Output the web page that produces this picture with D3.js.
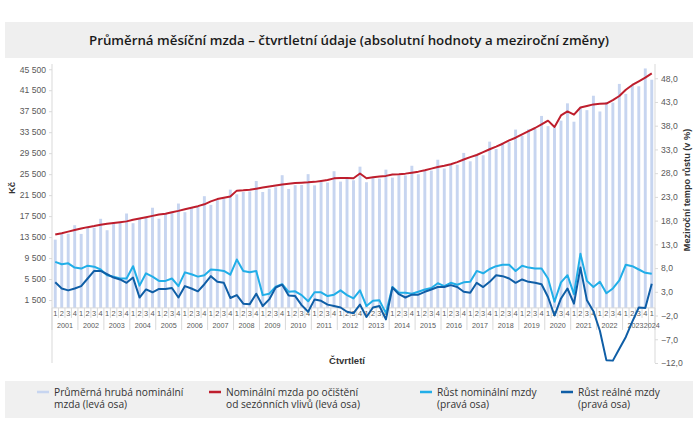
<!DOCTYPE html>
<html>
<head>
<meta charset="utf-8">
<script src="https://cdn.jsdelivr.net/npm/d3@7/dist/d3.min.js"></script>
<style>
  html, body { margin: 0; padding: 0; background: #fff; }
  svg { display: block; }
</style>
</head>
<body>
<svg id="chart" width="700" height="429"></svg>
<script>
// ---------- DATA ----------
const years = ["2001","2002","2003","2004","2005","2006","2007","2008","2009","2010","2011","2012",
               "2013","2014","2015","2016","2017","2018","2019","2020","2021","2022","2023","2024"];
const quarterNames = ["1","2","3","4"];

// Průměrná hrubá nominální mzda (Kč) – levá osa
const grossWage = [
  13020, 14250, 14150, 15770,
  14110, 15400, 15300, 16990,
  14810, 16300, 16200, 18000,
  16150, 17000, 17300, 19100,
  17010, 17900, 18300, 19900,
  18250, 19100, 19430, 21300,
  19650, 20550, 20860, 22550,
  21650, 22100, 22200, 24200,
  22100, 22700, 23000, 25300,
  22680, 23400, 23430, 25500,
  23360, 24120, 23910, 26060,
  24080, 24600, 24340, 26930,
  23960, 24770, 24650, 26360,
  24840, 25280, 25260, 27100,
  25480, 26150, 26180, 28250,
  26570, 27330, 27300, 29550,
  27950, 29200, 29100, 31700,
  30300, 31500, 31600, 34000,
  32800, 34050, 34100, 36600,
  34650, 34350, 35700, 39000,
  35500, 38200, 37700, 40450,
  37450, 39250, 39150, 42700,
  40800, 42500, 42250, 45650,
  43500
];

// Nominální mzda po očištění od sezónních vlivů (Kč) – levá osa
const seasonallyAdjusted = [
  13980, 14250, 14550, 14850,
  15150, 15400, 15600, 15850,
  16050, 16200, 16350, 16500,
  16800, 17050, 17300, 17550,
  17800, 17950, 18250, 18500,
  18800, 19100, 19400, 19750,
  20300, 20750, 21000, 21250,
  22360, 22420, 22540, 22730,
  22940, 23130, 23330, 23540,
  23680, 23800, 23880, 23940,
  24030, 24190, 24370, 24700,
  24780, 24780, 24730, 25630,
  24730, 24900, 25050, 25170,
  25450, 25500, 25600, 25780,
  25980, 26250, 26550, 26850,
  27100, 27400, 27800, 28300,
  28750, 29150, 29700, 30250,
  30750, 31300, 31950, 32450,
  33100, 33700, 34300, 35000,
  35700, 34500, 36700, 37450,
  36850, 38200, 38500, 38800,
  38900, 38950, 39600, 40400,
  41600, 42500, 43200, 43900,
  44700
];

// Růst nominální mzdy (%) – pravá osa
const nominalGrowth = [
  9.3, 8.8, 9.0, 8.1,
  7.9, 8.5, 8.3, 7.7,
  6.5, 6.2, 5.8, 5.8,
  8.4, 4.3, 6.9, 6.2,
  5.3, 5.3, 5.8, 4.2,
  7.1, 6.7, 6.2, 6.5,
  7.7, 7.6, 7.4, 6.6,
  9.8, 7.4, 7.1, 7.4,
  2.3, 2.6, 4.1, 4.6,
  3.0, 3.1, 2.3, 1.0,
  2.9, 2.9, 2.1, 2.4,
  3.3, 2.3, 1.6, 3.3,
  0.0, 1.1, 1.2, -1.5,
  4.0, 2.8, 2.8, 2.6,
  3.0, 3.5, 3.8, 4.8,
  4.2, 4.9, 4.5, 5.0,
  5.1, 7.4, 6.9, 7.8,
  8.4, 8.7, 8.7, 7.4,
  8.5, 8.1, 7.9, 7.9,
  5.8, 0.9, 5.0, 6.5,
  2.5, 11.0, 5.3, 4.0,
  5.1, 2.7, 3.7, 5.4,
  8.7, 8.4, 7.7, 7.0,
  6.8
];

// Růst reálné mzdy (%) – pravá osa
const realGrowth = [
  5.0, 3.7, 3.3, 3.7,
  4.2, 5.8, 7.4, 7.4,
  6.7, 6.0, 5.6, 4.9,
  6.0, 1.8, 3.5, 2.9,
  3.6, 3.6, 3.8, 1.8,
  4.2, 3.7, 3.1, 4.6,
  6.3, 5.1, 4.9, 1.7,
  2.3, 0.5, 0.4, 2.6,
  0.0, 1.4, 3.9, 4.5,
  2.2, 2.1, 0.2, -1.2,
  1.4, 1.1, 0.3, 0.0,
  -0.3, -1.2, -1.5, 0.3,
  -2.3, -0.3, 0.0, -2.8,
  3.9, 2.5, 1.8, 2.4,
  2.4, 3.0, 3.5, 4.0,
  4.0, 4.4, 4.0, 3.0,
  2.8, 4.9, 4.0, 5.1,
  6.5, 6.3, 5.8, 4.9,
  5.6, 5.1, 4.9, 4.6,
  1.9, -2.0, 1.6, 3.7,
  0.5, 8.1, 1.2, -1.1,
  -5.2, -11.4, -11.5, -9.0,
  -6.5, -3.3, -0.3, -0.4,
  4.7
];

const leftTicks = [1500, 5500, 9500, 13500, 17500, 21500, 25500, 29500, 33500, 37500, 41500, 45500];
const rightTicks = [-12, -7, -2, 3, 8, 13, 18, 23, 28, 33, 38, 43, 48];

const titleText = "Průměrná měsíční mzda – čtvrtletní údaje (absolutní hodnoty a meziroční změny)";
const legendItems = [
  { key: "bar",  lines: ["Průměrná hrubá nominální", "mzda (levá osa)"] },
  { key: "sa",   lines: ["Nominální mzda po očištění", "od sezónních vlivů (levá osa)"] },
  { key: "nom",  lines: ["Růst nominální mzdy", "(pravá osa)"] },
  { key: "real", lines: ["Růst reálné mzdy", "(pravá osa)"] }
];

// categories (year + quarter)
const categories = [];
years.forEach(y => {
  quarterNames.forEach(q => {
    if (y === "2024" && q !== "1") return;
    categories.push({ year: y, q: q });
  });
});

// ---------- STYLE ----------
const colors = { bar: "#c7d5f0", sa: "#be1e2d", nom: "#21aee8", real: "#0f5ea6" };
const axisColor = "#d9d9d9";
const labelColor = "#595959";
const fontAxis = "'Liberation Sans', Arial, sans-serif";
const fontTitle = "'Open Sans', 'Noto Sans', sans-serif";

const svg = d3.select("#chart");
const plot = { left: 52, right: 655, top: 64, bottom: 363 };

const locale = d3.formatLocale({ decimal: ",", thousands: " ", grouping: [3], currency: ["", " Kč"] });
const fmtLeft = locale.format(",.0f");
const fmtRight = locale.format(".1f");

const x = d3.scaleBand()
  .domain(d3.range(categories.length))
  .range([plot.left, plot.right])
  .paddingInner(0.55)
  .paddingOuter(0.275);
const step = x.step();
const yL = d3.scaleLinear().domain([-10500, 46500]).range([plot.bottom, plot.top]);
const yR = d3.scaleLinear().domain([-12, 51]).range([plot.bottom, plot.top]);
const baseY = yL(0);

// ---------- TITLE ----------
svg.append("rect").attr("x", 5).attr("y", 22).attr("width", 688).attr("height", 36).attr("fill", "#efefef");
svg.append("text").attr("x", 349).attr("y", 44.5).attr("text-anchor", "middle")
  .attr("font-family", fontTitle).attr("font-weight", 600).attr("font-size", 13.3)
  .attr("fill", "#1a1a1a").text(titleText);

// ---------- BARS ----------
svg.append("g").selectAll("rect").data(grossWage).join("rect")
  .attr("x", (d, i) => x(i))
  .attr("width", x.bandwidth())
  .attr("y", d => yL(d))
  .attr("height", d => baseY - yL(d))
  .attr("fill", colors.bar);

// ---------- AXES ----------
const gLeft = svg.append("g").attr("transform", `translate(${plot.left},0)`)
  .call(d3.axisLeft(yL).tickValues(leftTicks).tickFormat(fmtLeft).tickSize(3).tickPadding(3));
gLeft.select(".domain").remove();
gLeft.selectAll(".tick line").attr("stroke", axisColor);
gLeft.selectAll("text").attr("font-family", fontAxis).attr("font-size", 8.6).attr("fill", labelColor);
svg.append("line").attr("x1", plot.left).attr("x2", plot.left).attr("y1", plot.top).attr("y2", plot.bottom)
  .attr("stroke", axisColor);

const gRight = svg.append("g").attr("transform", `translate(${plot.right},0)`)
  .call(d3.axisRight(yR).tickValues(rightTicks).tickFormat(fmtRight).tickSize(3).tickPadding(3));
gRight.select(".domain").remove();
gRight.selectAll(".tick line").attr("stroke", axisColor);
gRight.selectAll("text").attr("font-family", fontAxis).attr("font-size", 8.6).attr("fill", labelColor);
svg.append("line").attr("x1", plot.right).attr("x2", plot.right).attr("y1", plot.top).attr("y2", plot.bottom)
  .attr("stroke", axisColor);

// category axis
const gCat = svg.append("g");
gCat.append("line").attr("x1", plot.left).attr("x2", plot.right).attr("y1", baseY).attr("y2", baseY)
  .attr("stroke", axisColor);
categories.forEach((c, i) => {
  const bx = plot.left + i * step;
  const isYearStart = c.q === "1";
  gCat.append("line").attr("x1", bx).attr("x2", bx).attr("y1", baseY)
    .attr("y2", isYearStart ? baseY + 22 : baseY + 10)
    .attr("stroke", axisColor);
  gCat.append("text").attr("x", x(i) + x.bandwidth() / 2).attr("y", baseY + 8)
    .attr("text-anchor", "middle").attr("font-family", fontAxis).attr("font-size", 7.4)
    .attr("fill", labelColor).text(c.q);
});
gCat.append("line").attr("x1", plot.right).attr("x2", plot.right).attr("y1", baseY).attr("y2", baseY + 22)
  .attr("stroke", axisColor);
years.forEach(y => {
  const idx = categories.map((c, i) => c.year === y ? i : -1).filter(i => i >= 0);
  const cx = (x(idx[0]) + x(idx[idx.length - 1]) + x.bandwidth()) / 2;
  gCat.append("text").attr("x", cx).attr("y", baseY + 20)
    .attr("text-anchor", "middle").attr("font-family", fontAxis).attr("font-size", 7.2)
    .attr("fill", labelColor).text(y);
});

// axis titles
svg.append("text").attr("transform", "translate(15,188) rotate(-90)").attr("text-anchor", "middle")
  .attr("font-family", fontAxis).attr("font-weight", 700).attr("font-size", 9.5).attr("fill", "#333").text("Kč");
svg.append("text").attr("transform", "translate(690,190) rotate(-90)").attr("text-anchor", "middle")
  .attr("font-family", fontAxis).attr("font-weight", 700).attr("font-size", 9.2).attr("fill", "#333")
  .text("Meziroční tempo růstu (v %)");
svg.append("text").attr("x", 347).attr("y", 364).attr("text-anchor", "middle")
  .attr("font-family", fontAxis).attr("font-weight", 700).attr("font-size", 9.5).attr("fill", "#333")
  .text("Čtvrtletí");

// ---------- LINES ----------
const cx = i => x(i) + x.bandwidth() / 2;
const lineL = d3.line().x((d, i) => cx(i)).y(d => yL(d));
const lineR = d3.line().x((d, i) => cx(i)).y(d => yR(d));
svg.append("path").datum(seasonallyAdjusted).attr("d", lineL).attr("fill", "none")
  .attr("stroke", colors.sa).attr("stroke-width", 2).attr("stroke-linejoin", "round");
svg.append("path").datum(nominalGrowth).attr("d", lineR).attr("fill", "none")
  .attr("stroke", colors.nom).attr("stroke-width", 2).attr("stroke-linejoin", "round");
svg.append("path").datum(realGrowth).attr("d", lineR).attr("fill", "none")
  .attr("stroke", colors.real).attr("stroke-width", 2).attr("stroke-linejoin", "round");

// ---------- LEGEND ----------
svg.append("rect").attr("x", 5).attr("y", 381).attr("width", 688).attr("height", 37).attr("fill", "#f0f0f0");
const legendX = [37, 209, 420, 561];
legendItems.forEach((item, k) => {
  const lx = legendX[k];
  svg.append("line").attr("x1", lx).attr("x2", lx + 12).attr("y1", 392).attr("y2", 392)
    .attr("stroke", colors[item.key]).attr("stroke-width", 2.5);
  const t = svg.append("text").attr("x", lx + 17).attr("y", 395.5)
    .attr("font-family", fontTitle).attr("font-size", 10.2).attr("fill", "#333");
  item.lines.forEach((ln, j) => {
    t.append("tspan").attr("x", lx + 17).attr("dy", j === 0 ? 0 : 12.5).text(ln);
  });
});
</script>
</body>
</html>
